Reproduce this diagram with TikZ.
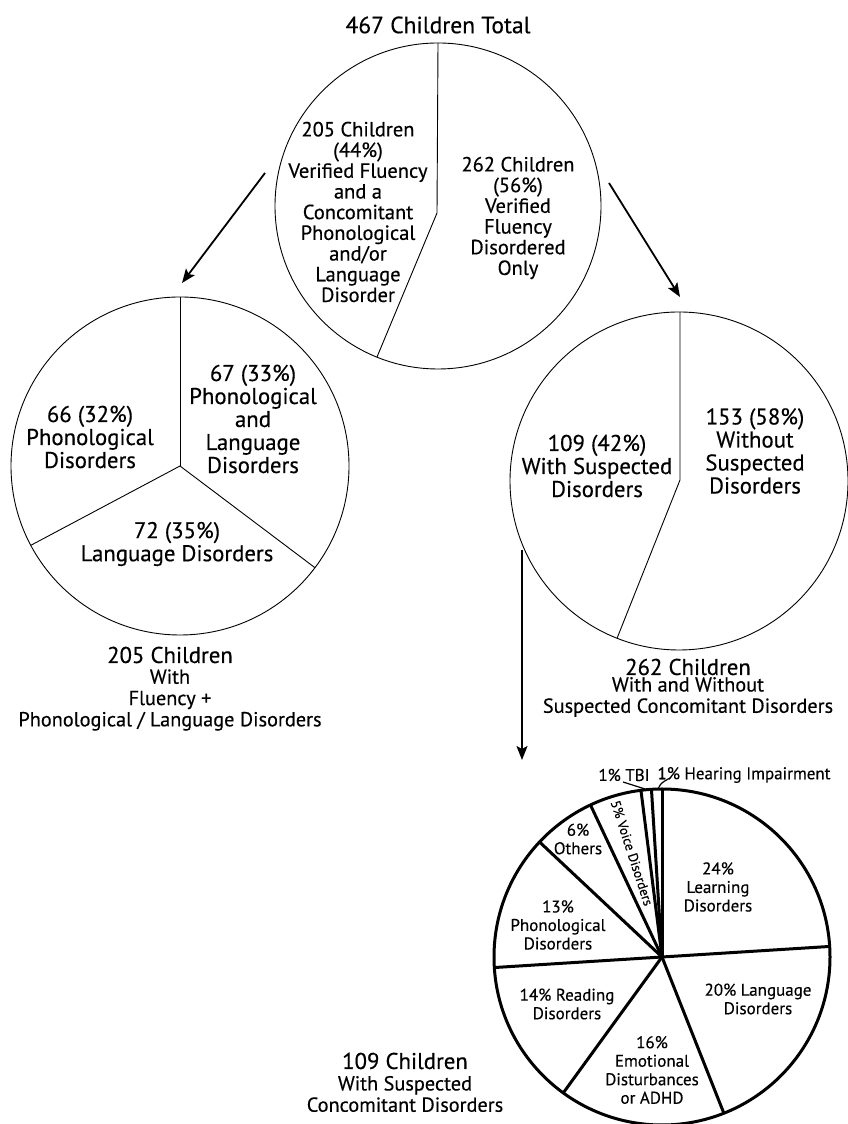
\documentclass[tikz,border=0pt]{standalone}
\usepackage{fontspec}
\setmainfont{PT Sans}[FakeBold=0.4]
\usetikzlibrary{arrows.meta,calc}
\newcommand{\fs}[2]{\fontsize{#1}{#2}\selectfont}
\tikzset{
	thinpie/.style={line width=0.9pt},
	fatpie/.style={line width=3pt},
	flow/.style={line width=1.8pt, -{Stealth[length=14pt,width=11pt,inset=3pt]}},
	lbl/.style={align=center, inner sep=0pt},
	toptxt/.style={lbl, font=\fs{20.5}{20.7}},
	midtxt/.style={lbl, font=\fs{22.8}{23}},
	captop/.style={lbl, font=\fs{22.8}{22}},
	capsub/.style={lbl, font=\fs{20.3}{21.3}},
	smalltxt/.style={lbl, font=\fs{17}{18.5}},
}

\begin{document}
\begin{tikzpicture}[x=1pt, y=1pt]
			%%%%% START %%%%%
			\useasboundingbox (0,0) rectangle (848,1124);
			
			% top pie
			\coordinate (tc) at (438,918);
			\draw[thinpie] (tc) circle (163);
			\draw[thinpie] (438,1081) -- (437,911) -- ($(tc)+(248:163)$);
			\node[lbl, font=\fs{23.5}{24}] (ttl) at (438,1099) {467 Children Total};
			\node[toptxt] (topL) at (358,912) {205 Children\\(44\%)\\Verified Fluency\\and a\\Concomitant\\Phonological\\and/or\\Language\\Disorder};
			\node[toptxt] (topR) at (518,906) {262 Children\\(56\%)\\Verified\\Fluency\\Disordered\\Only};
			
			% left pie
			\coordinate (lc) at (180,658);
			\draw[thinpie] (lc) circle (169);
			\draw[thinpie] (180,827) -- (lc);
			\draw[thinpie] (lc) -- ++(208:169);
			\draw[thinpie] (lc) -- ++(-37:169);
			\node[midtxt] (lftA) at (90,687) {66 (32\%)\\Phonological\\Disorders};
			\node[midtxt] (lftB) at (253,705) {67 (33\%)\\Phonological\\and\\Language\\Disorders};
			\node[midtxt] (lftC) at (177,580) {72 (35\%)\\Language Disorders};
			\node[captop] (lftCap) at (170,469) {205 Children};
			\node[capsub] (lftSub) at (170,424) {With\\Fluency +\\Phonological / Language Disorders};
			
			% right pie
			\coordinate (rc) at (679,643);
			\draw[thinpie] (rc) circle (169);
			\draw[thinpie] (680,812) -- (680,644) -- ($(rc)+(248.5:169)$);
			\node[midtxt] (rgtA) at (597,658) {109 (42\%)\\With Suspected\\Disorders};
			\node[midtxt] (rgtB) at (755,673) {153 (58\%)\\Without\\Suspected\\Disorders};
			\node[captop] (rgtCap) at (688,457) {262 Children};
			\node[capsub] (rgtSub) at (688,427) {With and Without\\Suspected Concomitant Disorders};
			
			% arrows
			\coordinate (a1s) at (265,951);
			\coordinate (a1e) at (182,841);
			\coordinate (a2s) at (609,941);
			\coordinate (a2e) at (680,827);
			\coordinate (a3s) at (522,574);
			\coordinate (a3e) at (522,364);
			\draw[flow] (a1s) -- (a1e);
			\draw[flow] (a2s) -- (a2e);
			\draw[flow, line width=1.5pt] (a3s) -- (a3e);
			
			% bottom pie
			\coordinate (bc) at (662,167);
			\draw[fatpie] (bc) circle (168);
			\foreach \a in {90,3.6,-68.4,-126,-176.4,136.8,115.2,97.2,93.6}
				\draw[fatpie] (bc) -- ++(\a:168);
			\node[smalltxt] (learn) at (718,237) {24\%\\Learning\\Disorders};
			\node[smalltxt] (lang) at (758,125) {20\% Language\\Disorders};
			\node[smalltxt] (emo) at (652,54) {16\%\\Emotional\\Disturbances\\or ADHD};
			\node[smalltxt] (read) at (567,120) {14\% Reading\\Disorders};
			\node[smalltxt] (phon) at (558,199) {13\%\\Phonological\\Disorders};
			\node[smalltxt] (oth) at (578,285) {6\%\\Others};
			\node[smalltxt, font=\fs{13.5}{15}, rotate=-72] (voice) at (632,271) {5\% Voice Disorders};
			\node[smalltxt] (tbi) at (624,349) {1\% TBI};
			\node[smalltxt] (hear) at (744,349) {1\% Hearing Impairment};
			\draw[line width=1.2pt] (623,342) -- (645,335);
			\draw[line width=1.2pt] (658,335) .. controls (661,341) .. (670,346);
			\node[captop] (botCap) at (405,63) {109 Children};
			\node[capsub] (botSub) at (405,30) {With Suspected\\Concomitant Disorders};
			
			%%%%% END %%%%%
\end{tikzpicture}
\end{document}
